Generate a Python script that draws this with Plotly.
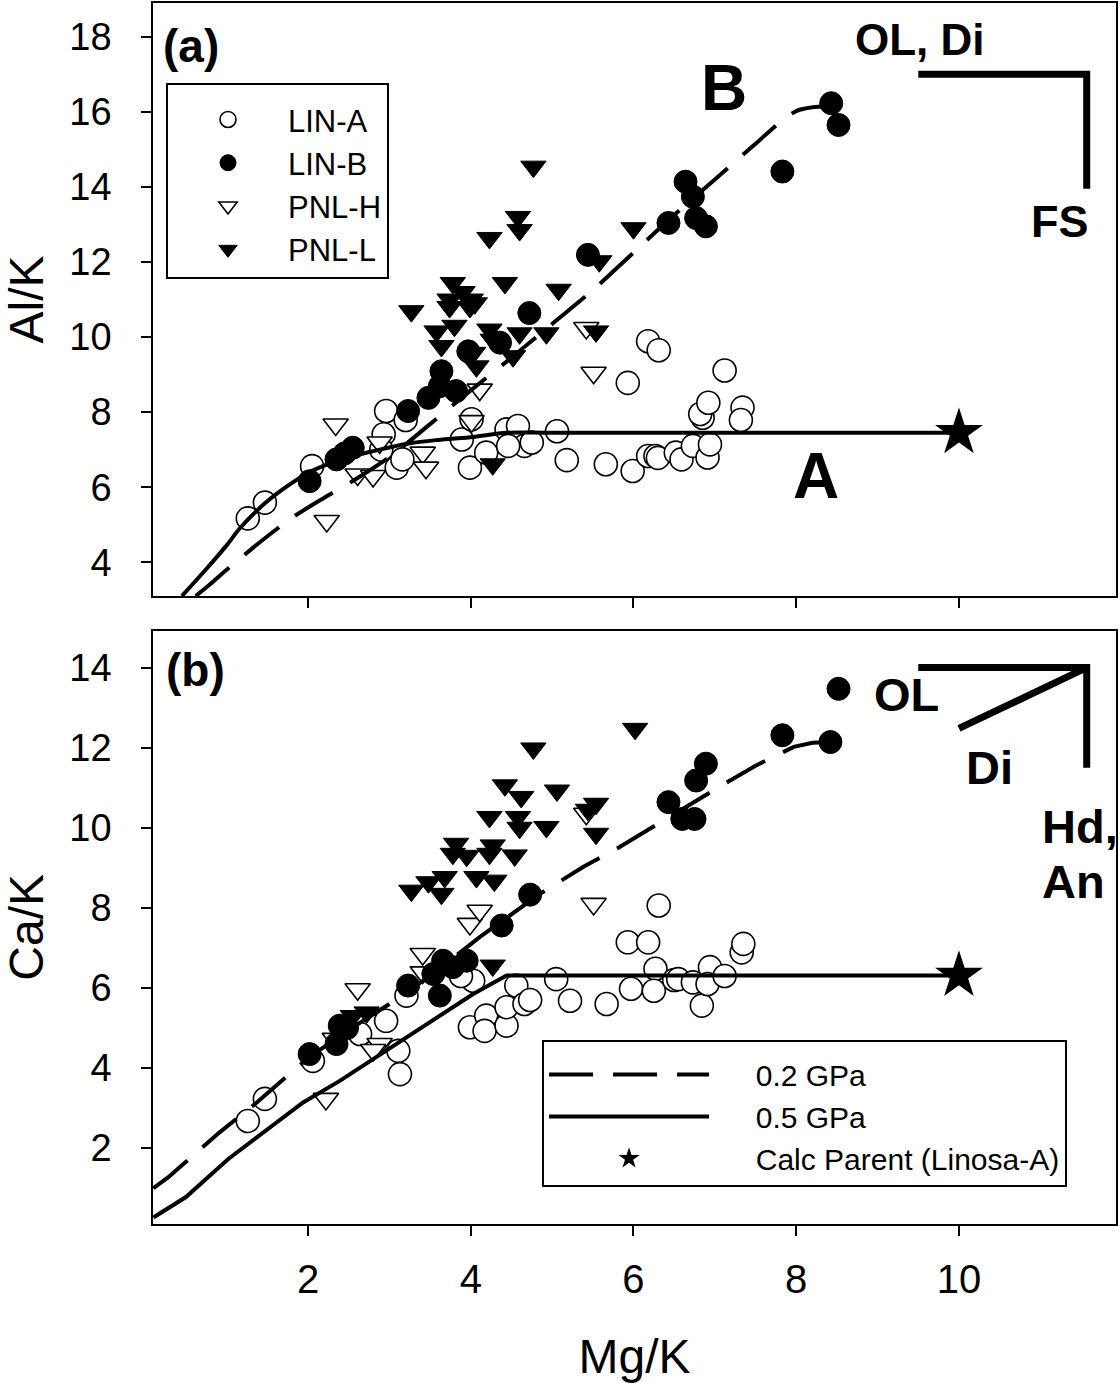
import plotly.graph_objects as go

FONT = "Liberation Sans, Arial, Helvetica, sans-serif"

# ---------------- panel (a): Al/K vs Mg/K ----------------
lin_a_mg_a = [1.26, 1.47, 2.05, 2.96, 3.20, 2.93, 2.90, 3.09, 3.16, 3.99, 3.89, 4.01, 4.19, 4.44, 4.58,
              4.66, 4.75, 4.46, 5.06, 5.18, 5.66, 5.93, 5.99, 6.18, 6.31, 6.18, 6.27, 6.30, 6.52, 6.59,
              6.73, 6.91, 6.94, 6.85, 6.82, 6.92, 7.12, 7.34, 7.32]
lin_a_al_a = [5.17, 5.59, 6.56, 8.03, 7.79, 7.41, 7.00, 6.52, 6.74, 6.52, 7.27, 7.81, 6.92, 7.54, 7.63,
              7.10, 7.19, 7.10, 7.49, 6.72, 6.61, 8.78, 6.43, 9.89, 9.65, 6.83, 6.83, 6.78, 6.92, 6.74,
              7.10, 6.79, 7.14, 7.85, 7.95, 8.25, 9.11, 8.12, 7.79]

lin_b_mg_a = [2.02, 2.35, 2.45, 2.55, 3.23, 3.48, 3.62, 3.64, 3.82, 3.97, 4.36, 4.72, 5.44, 6.43, 6.64,
              6.73, 6.77, 6.89, 7.83, 8.43, 8.52]
lin_b_al_a = [6.16, 6.74, 6.90, 7.05, 8.03, 8.38, 8.69, 9.09, 8.56, 9.62, 9.85, 10.64, 12.19, 13.04, 14.14,
              13.74, 13.17, 12.95, 14.41, 16.23, 15.65]

pnl_h_mg_a = [2.34, 2.23, 2.88, 2.61, 2.80, 3.41, 3.45, 4.01, 4.11, 5.42, 5.51]
pnl_h_al_a = [7.67, 5.10, 7.19, 6.34, 6.30, 6.92, 6.52, 7.76, 8.60, 10.24, 9.05]

pnl_l_mg_a = [4.77, 4.58, 4.60, 4.23, 3.27, 3.78, 3.74, 3.90, 4.00, 4.05, 4.42, 5.08, 5.58, 6.00, 3.58,
              3.64, 3.74, 3.99, 4.07, 4.27, 4.23, 4.52, 4.60, 4.93, 5.54, 4.27, 3.80, 4.03]
pnl_l_al_a = [14.54, 13.20, 12.85, 12.64, 10.69, 11.44, 11.00, 11.20, 11.00, 10.90, 11.44, 11.26, 12.02, 12.90, 10.15,
              9.76, 10.80, 10.80, 9.22, 9.93, 10.20, 9.49, 10.10, 10.10, 10.15, 6.61, 10.30, 9.58]

gpa02_mg_a = [0.62, 0.80, 1.00, 1.40, 1.80, 2.20, 2.60, 3.00, 3.50, 4.00, 4.50, 5.00, 5.50, 6.00, 6.50,
              7.00, 7.50, 7.80, 8.00, 8.20, 8.40]
gpa02_al_a = [3.10, 3.42, 3.80, 4.52, 5.18, 5.72, 6.23, 6.80, 7.68, 8.58, 9.45, 10.35, 11.25, 12.25, 13.25,
              14.20, 15.15, 15.72, 16.02, 16.12, 16.15]

gpa05_mg_a = [0.45, 0.75, 1.00, 1.16, 1.47, 1.78, 2.00, 2.23, 2.50, 2.80, 3.25, 3.60, 4.03, 4.44, 5.00, 10.00]
gpa05_al_a = [3.10, 3.82, 4.45, 4.90, 5.57, 6.08, 6.38, 6.60, 6.80, 6.96, 7.17, 7.26, 7.34, 7.45, 7.45, 7.45]

parent_mg = [10.0]
parent_al = [7.45]

bracket_a_mg = [9.5, 11.57, 11.57]
bracket_a_al = [17.0, 17.0, 13.95]

# ---------------- panel (b): Ca/K vs Mg/K ----------------
lin_a_mg_b = [1.26, 1.47, 2.06, 3.21, 2.96, 2.64, 3.11, 3.13, 3.99, 4.19, 4.17, 4.44, 4.44, 4.56, 4.66,
              4.73, 4.03, 3.88, 5.05, 5.22, 5.67, 5.93, 6.18, 5.97, 6.27, 6.25, 6.50, 6.55, 6.73, 6.84,
              6.94, 6.91, 7.12, 7.33, 7.35, 6.31]
lin_a_ca_b = [2.68, 3.23, 4.18, 5.81, 5.18, 4.85, 4.43, 3.85, 5.02, 5.31, 4.93, 5.06, 5.52, 6.06, 5.60,
              5.70, 6.18, 6.30, 6.22, 5.68, 5.60, 7.14, 7.14, 5.98, 6.48, 5.93, 6.20, 6.22, 6.14, 5.56,
              6.52, 6.10, 6.30, 6.89, 7.10, 8.06]

lin_b_mg_b = [2.02, 2.39, 2.35, 2.48, 3.23, 3.62, 3.66, 3.78, 3.95, 3.54, 4.38, 4.73, 6.43, 6.60, 6.75,
              6.77, 6.89, 7.83, 8.42, 8.52]
lin_b_ca_b = [4.35, 5.06, 4.60, 5.00, 6.06, 5.81, 6.68, 6.52, 6.68, 6.35, 7.56, 8.33, 10.64, 10.22, 10.22,
              11.18, 11.60, 12.31, 12.14, 13.47]

pnl_h_mg_b = [2.61, 2.22, 2.33, 2.88, 2.80, 3.41, 3.41, 3.99, 4.11, 5.42, 5.51]
pnl_h_ca_b = [5.97, 3.23, 4.73, 4.60, 4.45, 6.85, 6.39, 7.60, 7.93, 10.35, 8.10]

pnl_l_mg_b = [4.77, 4.42, 4.62, 5.06, 4.23, 4.58, 4.60, 4.93, 3.82, 3.78, 3.95, 4.27, 4.23, 4.54, 4.07,
              4.29, 3.27, 3.48, 3.64, 3.68, 6.02, 5.54, 5.44, 5.54, 4.27, 2.72, 2.55]
pnl_l_ca_b = [11.98, 11.06, 10.77, 10.93, 10.27, 10.27, 10.00, 10.02, 9.60, 9.35, 9.30, 9.56, 9.35, 9.31, 8.77,
              8.68, 8.43, 8.64, 8.35, 8.77, 12.47, 10.60, 10.45, 9.85, 6.56, 5.39, 5.30]

gpa02_mg_b = [0.10, 0.28, 0.50, 0.73, 0.91, 1.37, 2.00, 2.50, 3.00, 3.50, 4.11, 4.85, 5.38, 5.83, 6.50,
              7.12, 7.50, 7.76, 7.97, 8.20, 8.43]
gpa02_ca_b = [1.00, 1.27, 1.66, 2.06, 2.39, 3.14, 4.25, 4.95, 5.60, 6.30, 7.27, 8.35, 9.02, 9.52, 10.35,
              11.10, 11.55, 11.81, 12.02, 12.12, 12.14]

gpa05_mg_b = [0.10, 0.50, 1.02, 1.50, 1.94, 2.39, 2.80, 3.21, 3.60, 4.03, 4.44, 10.00]
gpa05_ca_b = [0.27, 0.78, 1.73, 2.45, 3.14, 3.68, 4.22, 4.77, 5.30, 5.85, 6.31, 6.31]

parent_ca = [6.31]

bracket_b_mg = [9.5, 11.57, 11.57]
bracket_b_ca = [14.0, 14.0, 11.5]
di_arrow_mg = [11.55, 10.0]
di_arrow_ca = [13.98, 12.48]

x_ticks = [2, 4, 6, 8, 10]
al_ticks = [4, 6, 8, 10, 12, 14, 16, 18]
ca_ticks = [2, 4, 6, 8, 10, 12, 14]

# ---------------- styles ----------------
open_circle = dict(symbol="circle", size=23, color="white", line=dict(color="black", width=1.6))
fill_circle = dict(symbol="circle", size=23, color="black", line=dict(color="black", width=1))
open_tri = dict(symbol="triangle-down", size=22, color="white", line=dict(color="black", width=1.6))
fill_tri = dict(symbol="triangle-down", size=22, color="black", line=dict(color="black", width=1))
star = dict(symbol="star", size=36, color="black", line=dict(color="black", width=0))
dash_line = dict(color="black", width=4, dash="44px,20px")
solid_line = dict(color="black", width=4)
PAD = "\u00a0" * 5

fig = go.Figure()


def add_panel(xa, ya, la, lb, ph, pl, g2, g5, par, show, shape):
    fig.add_trace(go.Scatter(x=la[0], y=la[1], mode="markers", marker=open_circle, name="LIN-A",
                             xaxis=xa, yaxis=ya, showlegend=show, legend="legend", legendrank=1))
    fig.add_trace(go.Scatter(x=ph[0], y=ph[1], mode="markers", marker=open_tri, name="PNL-H",
                             xaxis=xa, yaxis=ya, showlegend=show, legend="legend", legendrank=3))
    fig.add_trace(go.Scatter(x=pl[0], y=pl[1], mode="markers", marker=fill_tri, name="PNL-L",
                             xaxis=xa, yaxis=ya, showlegend=show, legend="legend", legendrank=4))
    fig.add_trace(go.Scatter(x=lb[0], y=lb[1], mode="markers", marker=fill_circle, name="LIN-B",
                             xaxis=xa, yaxis=ya, showlegend=show, legend="legend", legendrank=2))
    fig.add_trace(go.Scatter(x=g2[0], y=g2[1], mode="lines", line=dict(dash_line, shape=shape, smoothing=0.8),
                             name=PAD + "0.2 GPa",
                             xaxis=xa, yaxis=ya, showlegend=not show, legend="legend2", legendrank=5))
    fig.add_trace(go.Scatter(x=g5[0], y=g5[1], mode="lines", line=dict(solid_line, shape=shape, smoothing=0.8),
                             name=PAD + "0.5 GPa",
                             xaxis=xa, yaxis=ya, showlegend=not show, legend="legend2", legendrank=6))
    fig.add_trace(go.Scatter(x=par[0], y=par[1], mode="markers", marker=star,
                             name=PAD + "Calc Parent (Linosa-A)",
                             xaxis=xa, yaxis=ya, showlegend=not show, legend="legend2", legendrank=7))


add_panel("x", "y", (lin_a_mg_a, lin_a_al_a), (lin_b_mg_a, lin_b_al_a), (pnl_h_mg_a, pnl_h_al_a),
          (pnl_l_mg_a, pnl_l_al_a), (gpa02_mg_a, gpa02_al_a), (gpa05_mg_a, gpa05_al_a),
          (parent_mg, parent_al), True, "spline")
add_panel("x2", "y2", (lin_a_mg_b, lin_a_ca_b), (lin_b_mg_b, lin_b_ca_b), (pnl_h_mg_b, pnl_h_ca_b),
          (pnl_l_mg_b, pnl_l_ca_b), (gpa02_mg_b, gpa02_ca_b), (gpa05_mg_b, gpa05_ca_b),
          (parent_mg, parent_ca), False, "linear")

bracket_line = dict(color="black", width=7)
for bx, by, xa, ya in [(bracket_a_mg, bracket_a_al, "x", "y"),
                       (bracket_b_mg, bracket_b_ca, "x2", "y2"),
                       (di_arrow_mg, di_arrow_ca, "x2", "y2")]:
    fig.add_trace(go.Scatter(x=bx, y=by, mode="lines", line=bracket_line, xaxis=xa, yaxis=ya,
                             showlegend=False, hoverinfo="skip"))

axis_common = dict(showline=True, linecolor="black", linewidth=1.6, mirror=True, ticks="outside",
                   ticklen=10, tickwidth=1.5, tickcolor="black", showgrid=False, zeroline=False,
                   automargin=False)
xrange = [0.095, 11.93]

fig.update_layout(
    width=1120, height=1383,
    margin=dict(l=153, r=4, t=3, b=159),
    paper_bgcolor="white", plot_bgcolor="white",
    font=dict(family=FONT, color="black"),
    xaxis=dict(domain=[0, 1], anchor="y", range=xrange, tickvals=x_ticks, showticklabels=False,
               **axis_common),
    yaxis=dict(domain=[0.5143, 1], anchor="x", range=[3.1, 18.9], tickvals=al_ticks,
               tickfont=dict(size=38), ticklabelstandoff=22,
               title=dict(text="Al/K", font=dict(size=48), standoff=24), **axis_common),
    xaxis2=dict(domain=[0, 1], anchor="y2", range=xrange, tickvals=x_ticks,
                tickfont=dict(size=40), ticklabelstandoff=9,
                title=dict(text="Mg/K", font=dict(size=48), standoff=47), **axis_common),
    yaxis2=dict(domain=[0, 0.4859], anchor="x2", range=[0.107, 14.92], tickvals=ca_ticks,
                tickfont=dict(size=38), ticklabelstandoff=22,
                title=dict(text="Ca/K", font=dict(size=48), standoff=24), **axis_common),
    legend=dict(x=0.0135, y=0.9345, xanchor="left", yanchor="top", bgcolor="white",
                bordercolor="black", borderwidth=2, font=dict(size=31, family=FONT),
                itemwidth=110, traceorder="normal",
                title=dict(text="\u00a0", font=dict(size=6))),
    legend2=dict(x=0.404, y=0.1507, xanchor="left", yanchor="top", bgcolor="white",
                 bordercolor="black", borderwidth=2, font=dict(size=30, family=FONT),
                 itemwidth=160, traceorder="normal",
                 title=dict(text="\u00a0", font=dict(size=5))),
    showlegend=True,
)

ann = [
    ("<b>(a)</b>", 0.567, 17.76, "x", "y", 46, "center"),
    ("<b>B</b>", 7.108, 16.63, "x", "y", 64, "center"),
    ("<b>A</b>", 8.241, 6.30, "x", "y", 64, "center"),
    ("<b>OL, Di</b>", 9.527, 17.93, "x", "y", 44, "center"),
    ("<b>FS</b>", 11.247, 13.08, "x", "y", 45, "center"),
    ("<b>(b)</b>", 0.617, 13.93, "x2", "y2", 46, "center"),
    ("<b>OL</b>", 9.355, 13.33, "x2", "y2", 47, "center"),
    ("<b>Di</b>", 10.375, 11.51, "x2", "y2", 47, "center"),
    ("<b>Hd,</b>", 10.994, 10.04, "x2", "y2", 47, "left"),
    ("<b>An</b>", 10.994, 8.66, "x2", "y2", 47, "left"),
]
for text, ax, ay, xr, yr, size, xanc in ann:
    fig.add_annotation(text=text, x=ax, y=ay, xref=xr, yref=yr, showarrow=False,
                       xanchor=xanc, yanchor="middle", font=dict(size=size, family=FONT, color="black"))

fig.write_html("out.html")
